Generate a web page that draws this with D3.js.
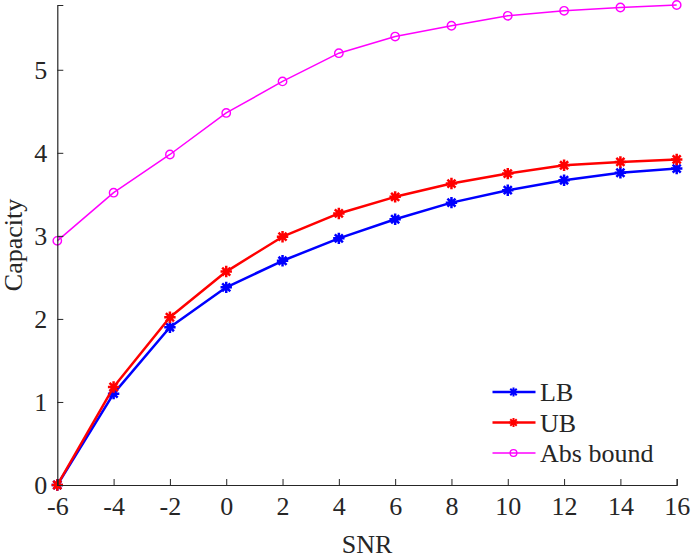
<!DOCTYPE html>
<html>
<head>
<meta charset="utf-8">
<script src="https://cdn.jsdelivr.net/npm/d3@7"></script>
<style>
  body { margin: 0; background: #fff; }
  text { font-family: "Liberation Serif", serif; fill: #262626; }
</style>
</head>
<body>
<div id="chart"></div>
<script>
// data
const snr = [-6, -4, -2, 0, 2, 4, 6, 8, 10, 12, 14, 16];
const lb = [0, 1.10, 1.90, 2.38, 2.70, 2.97, 3.20, 3.40, 3.55, 3.67, 3.76, 3.81];
const ub = [0, 1.18, 2.02, 2.57, 2.99, 3.27, 3.47, 3.63, 3.75, 3.85, 3.89, 3.92];
const absBound = [2.94, 3.52, 3.98, 4.48, 4.86, 5.20, 5.40, 5.53, 5.65, 5.71, 5.75, 5.78];
const xTicks = [-6, -4, -2, 0, 2, 4, 6, 8, 10, 12, 14, 16];
const yTicks = [0, 1, 2, 3, 4, 5];

const series = [
  { name: 'LB', values: lb, color: '#0000ff', width: 2.5, marker: 'star' },
  { name: 'UB', values: ub, color: '#ff0000', width: 2.5, marker: 'star' },
  { name: 'Abs bound', values: absBound, color: '#ff00ff', width: 1.5, marker: 'circle' }
];

const W = 691, H = 559;
const margin = { top: 5, right: 14.3, bottom: 74, left: 57.3 };
const width = W - margin.left - margin.right;
const height = H - margin.top - margin.bottom;
const fs = 26;

const svg = d3.select('#chart').append('svg')
  .attr('width', W)
  .attr('height', H);

const g = svg.append('g')
  .attr('transform', `translate(${margin.left},${margin.top})`);

const x = d3.scaleLinear().domain([-6, 16]).range([0, width]);
const y = d3.scaleLinear().domain([0, 5.78]).range([height, 0]);

// matlab style asterisk: plus + cross
const star = {
  draw(ctx, size) {
    const r = Math.sqrt(size) / 2;
    const d = r * Math.SQRT1_2;
    ctx.moveTo(-r, 0); ctx.lineTo(r, 0);
    ctx.moveTo(0, -r); ctx.lineTo(0, r);
    ctx.moveTo(-d, -d); ctx.lineTo(d, d);
    ctx.moveTo(-d, d); ctx.lineTo(d, -d);
  }
};

const line = d3.line()
  .x((d, i) => x(snr[i]))
  .y(d => y(d));

// k scales the marker (legend markers are smaller)
function drawMarker(sel, s, k) {
  if (s.marker === 'star') {
    sel.append('path')
      .attr('d', d3.symbol().type(star).size(130 * k * k)())
      .attr('fill', 'none')
      .attr('stroke', s.color)
      .attr('stroke-width', 2.5 * k);
  } else {
    sel.append('circle')
      .attr('r', 4.2 * k)
      .attr('fill', 'none')
      .attr('stroke', s.color)
      .attr('stroke-width', 1.4);
  }
}

series.forEach(s => {
  g.append('path')
    .datum(s.values)
    .attr('fill', 'none')
    .attr('stroke', s.color)
    .attr('stroke-width', s.width)
    .attr('stroke-linejoin', 'round')
    .attr('d', line);

  s.values.forEach((v, i) => {
    const m = g.append('g').attr('transform', `translate(${x(snr[i])},${y(v)})`);
    drawMarker(m, s, 1);
  });
});

// axes, ticks pointing inward
const xAxis = d3.axisBottom(x).tickValues(xTicks).tickSize(-6).tickPadding(12)
  .tickFormat(d3.format('d'));
const yAxis = d3.axisLeft(y).tickValues(yTicks).tickSize(-6).tickPadding(10)
  .tickFormat(d3.format('d'));

const gx = g.append('g').attr('transform', `translate(0,${height})`).call(xAxis);
const gy = g.append('g').call(yAxis);

[gx, gy].forEach(a => {
  a.select('.domain').attr('stroke', '#262626').attr('stroke-width', 1.2);
  a.selectAll('.tick line').attr('stroke', '#262626').attr('stroke-width', 1);
  a.selectAll('.tick text')
    .attr('font-size', fs)
    .attr('font-family', null)
    .attr('fill', '#262626');
});
gx.selectAll('.tick text').text(d => String(d).replace('\u2212', '-'));

svg.append('text')
  .attr('x', margin.left + width / 2)
  .attr('y', 553)
  .attr('text-anchor', 'middle')
  .attr('font-size', fs)
  .text('SNR');

svg.append('text')
  .attr('transform', `translate(22,${margin.top + height / 2}) rotate(-90)`)
  .attr('text-anchor', 'middle')
  .attr('font-size', fs)
  .text('Capacity');

// legend
const legend = svg.append('g').attr('transform', 'translate(492.5,392)');
series.forEach((s, i) => {
  const row = legend.append('g').attr('transform', `translate(0,${i * 30.5})`);
  row.append('line')
    .attr('x1', 0).attr('x2', 43)
    .attr('y1', 0).attr('y2', 0)
    .attr('stroke', s.color)
    .attr('stroke-width', s.width);
  const m = row.append('g').attr('transform', 'translate(21,0)');
  drawMarker(m, s, 0.8);
  row.append('text')
    .attr('x', 47.5)
    .attr('y', 9)
    .attr('font-size', fs)
    .text(s.name);
});
</script>
</body>
</html>
